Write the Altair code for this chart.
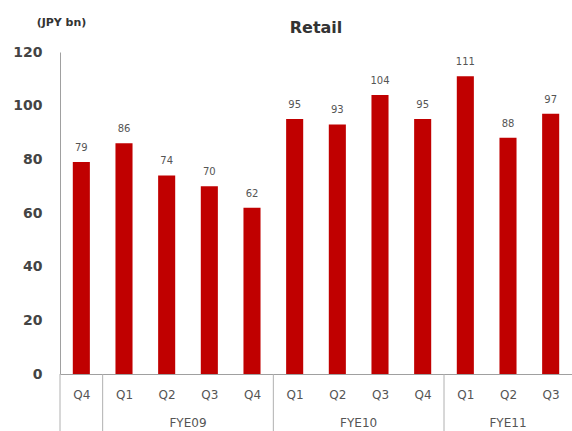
import altair as alt
import pandas as pd

# Quarterly retail figures (JPY bn)
fiscal_years = ["FYE08", "FYE09", "FYE09", "FYE09", "FYE09",
                "FYE10", "FYE10", "FYE10", "FYE10",
                "FYE11", "FYE11", "FYE11"]
quarters = ["Q4", "Q1", "Q2", "Q3", "Q4", "Q1", "Q2", "Q3", "Q4", "Q1", "Q2", "Q3"]
values = [79, 86, 74, 70, 62, 95, 93, 104, 95, 111, 88, 97]

# Fiscal-year group labels and their spans (quarter index start/end)
group_names = ["", "FYE09", "FYE10", "FYE11"]
group_start = [0, 1, 5, 9]
group_end = [1, 5, 9, 12]

W, H = 512, 322
RED = "#C00000"
FONT = "DejaVu Sans"
BAR_FRAC = 0.4  # bar width as a fraction of one quarter slot

n = len(values)
df = pd.DataFrame({"idx": range(n), "quarter": quarters, "value": values})
df["x0"] = df["idx"] + (1 - BAR_FRAC) / 2
df["x1"] = df["idx"] + (1 + BAR_FRAC) / 2
df["xc"] = df["idx"] + 0.5
df["base"] = 0

groups = pd.DataFrame({"name": group_names, "start": group_start, "end": group_end})
groups["mid"] = (groups["start"] + groups["end"]) / 2

x_scale = alt.Scale(domain=[0, n], nice=False, zero=False)
y_scale = alt.Scale(domain=[0, 120], nice=False, padding=0)
quarter_js = "[" + ",".join(f"'{q}'" for q in quarters) + "]"

x_axis = alt.Axis(
    title=None, values=[i + 0.5 for i in range(n)], labelAngle=0, ticks=False,
    grid=False, labelPadding=15, labelExpr=f"{quarter_js}[floor(datum.value)]",
    labelFont=FONT, labelFontSize=12, labelColor="#555555",
    domainColor="#A0A0A0", domainWidth=1,
)
y_axis = alt.Axis(
    title="(JPY bn)", titleAngle=0, titleAlign="center", titleBaseline="middle",
    titleX=1, titleY=-30, titleFont=FONT, titleFontSize=11, titleFontWeight="bold",
    titleColor="#333333",
    values=[0, 20, 40, 60, 80, 100, 120], grid=False, ticks=False,
    labelPadding=18, labelFont=FONT, labelFontSize=14, labelFontWeight="bold",
    labelColor="#444444", domainColor="#A0A0A0",
)

bars = alt.Chart(df).mark_bar(color=RED).encode(
    x=alt.X("x0:Q", scale=x_scale, axis=x_axis),
    x2="x1:Q",
    y=alt.Y("value:Q", scale=y_scale, axis=y_axis),
    y2="base:Q",
)

labels = alt.Chart(df).mark_text(
    dy=-9, font=FONT, fontSize=10, color="#555555", baseline="bottom"
).encode(x="xc:Q", y="value:Q", text="value:Q")

separators = alt.Chart(groups).mark_rule(color="#B0B0B0", strokeWidth=1).encode(
    x="start:Q",
    y=alt.value(H),
    y2=alt.value(H + 60),
)

group_text = alt.Chart(groups).mark_text(
    font=FONT, fontSize=12, color="#555555", baseline="middle"
).encode(
    x="mid:Q",
    y=alt.value(H + 49),
    text="name:N",
)

chart = alt.layer(bars, labels, separators, group_text).properties(
    width=W,
    height=H,
    autosize="none",
    background="white",
    padding={"left": 60, "top": 52, "right": 0, "bottom": 57},
    title=alt.TitleParams(
        "Retail", font=FONT, fontSize=16, fontWeight="bold", color="#333333",
        anchor="middle", offset=-20,
    ),
).configure_view(stroke=None)

chart.save("out.html", embed_options={"renderer": "svg", "actions": False})
